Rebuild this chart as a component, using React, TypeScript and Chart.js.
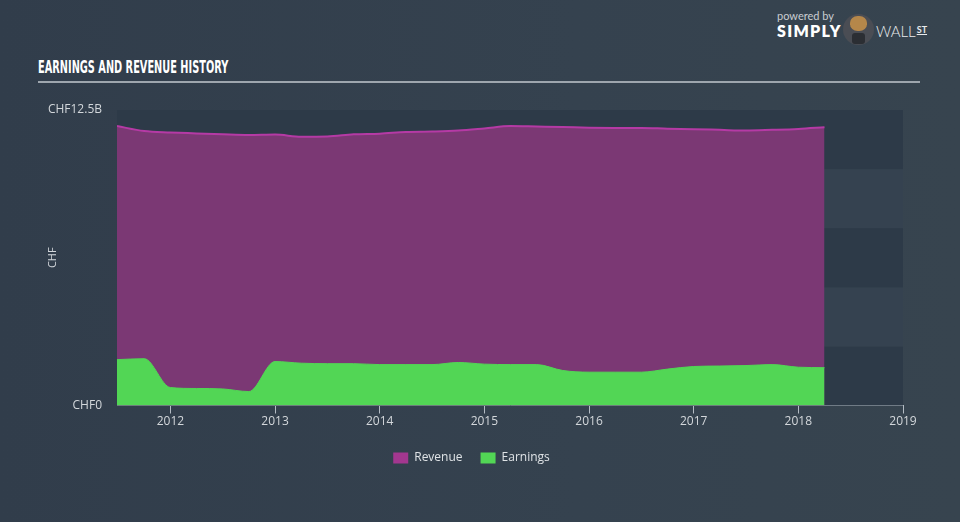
import React, { useEffect, useRef } from 'react';
import { Chart, registerables } from 'chart.js';

Chart.register(...registerables);

// Quarterly reporting periods (decimal years)
const periods = [
  2011.49, 2011.75, 2012.0, 2012.25, 2012.5, 2012.75, 2013.0, 2013.25, 2013.5, 2013.75,
  2014.0, 2014.25, 2014.5, 2014.75, 2015.0, 2015.25, 2015.5, 2015.75, 2016.0, 2016.25,
  2016.5, 2016.75, 2017.0, 2017.25, 2017.5, 2017.75, 2018.0, 2018.25,
];
// CHF billions
const revenue = [
  11.82, 11.61, 11.55, 11.51, 11.47, 11.44, 11.46, 11.37, 11.38, 11.47,
  11.5, 11.57, 11.59, 11.63, 11.72, 11.82, 11.8, 11.78, 11.75, 11.74,
  11.74, 11.71, 11.69, 11.66, 11.63, 11.66, 11.7, 11.77,
];
const earnings = [
  1.94, 1.98, 0.76, 0.72, 0.7, 0.59, 1.86, 1.79, 1.77, 1.77,
  1.73, 1.73, 1.73, 1.82, 1.75, 1.73, 1.73, 1.48, 1.41, 1.41,
  1.41, 1.54, 1.65, 1.67, 1.69, 1.73, 1.62, 1.6,
];
const yearTicks = [2012, 2013, 2014, 2015, 2016, 2017, 2018, 2019];
const yTickValues = [0, 12.5];
const yTickLabels = ['CHF0', 'CHF12.5B'];
const bandEdges = [0, 2.5, 5, 7.5, 10, 12.5];

const AXIS_COLOR = '#b4bcc4';
const TEXT_COLOR = '#d3d7db';
const FONT = "'Open Sans', 'Lato', sans-serif";

const bandsPlugin = {
  id: 'bands',
  beforeDatasetsDraw(chart: any) {
    const { ctx, chartArea, scales } = chart;
    const y = scales.y;
    ctx.save();
    for (let i = 0; i < bandEdges.length - 1; i++) {
      const top = y.getPixelForValue(bandEdges[i + 1]);
      const bottom = y.getPixelForValue(bandEdges[i]);
      ctx.fillStyle = i % 2 === 0 ? '#2d3a48' : '#354250';
      ctx.fillRect(chartArea.left, top, chartArea.right - chartArea.left, bottom - top);
    }
    ctx.restore();
  },
};

export default function App() {
  const canvasRef = useRef<HTMLCanvasElement | null>(null);

  useEffect(() => {
    if (!canvasRef.current) return;
    const chart = new Chart(canvasRef.current, {
      type: 'line',
      data: {
        datasets: [
          {
            label: 'Revenue',
            data: periods.map((x, i) => ({ x, y: revenue[i] })),
            borderColor: '#b53aa5',
            backgroundColor: '#7b3874',
            borderWidth: 2,
            fill: 'origin',
            pointRadius: 0,
            cubicInterpolationMode: 'monotone',
            order: 1,
          },
          {
            label: 'Earnings',
            data: periods.map((x, i) => ({ x, y: earnings[i] })),
            borderColor: '#52d655',
            backgroundColor: '#52d655',
            borderWidth: 1,
            fill: 'origin',
            pointRadius: 0,
            cubicInterpolationMode: 'monotone',
            order: 0,
          },
        ],
      },
      options: {
        animation: false,
        responsive: false,
        maintainAspectRatio: false,
        layout: { padding: { left: 40, right: 57, top: 110, bottom: 48 } },
        plugins: {
          tooltip: { enabled: false },
          legend: {
            display: true,
            position: 'bottom',
            labels: {
              boxWidth: 15,
              boxHeight: 11,
              padding: 18,
              color: '#dfe3e6',
              font: { family: FONT, size: 12 },
              sort: (a: any, b: any) => a.datasetIndex - b.datasetIndex,
              generateLabels: (c: any) =>
                Chart.defaults.plugins.legend.labels.generateLabels(c).map((l: any) => ({
                  ...l,
                  fillStyle: l.datasetIndex === 0 ? '#a3378f' : '#52d655',
                  strokeStyle: 'rgba(0,0,0,0)',
                  lineWidth: 0,
                })),
            },
          },
        },
        scales: {
          x: {
            type: 'linear',
            min: 2011.49,
            max: 2019,
            afterBuildTicks: (s: any) => {
              s.ticks = yearTicks.map((v) => ({ value: v }));
            },
            afterFit: (s: any) => {
              s.height = 28.5;
            },
            ticks: {
              autoSkip: false,
              maxRotation: 0,
              padding: 1,
              color: TEXT_COLOR,
              font: { family: FONT, size: 12 },
              callback: (v: any) => String(v),
            },
            grid: {
              drawOnChartArea: false,
              drawTicks: true,
              tickLength: 8,
              color: AXIS_COLOR,
              lineWidth: 1,
            },
            border: { display: true, color: AXIS_COLOR, width: 1 },
          },
          y: {
            min: 0,
            max: 12.5,
            afterBuildTicks: (s: any) => {
              s.ticks = yTickValues.map((v) => ({ value: v }));
            },
            afterFit: (s: any) => {
              s.width = 77;
            },
            ticks: {
              padding: 7,
              color: TEXT_COLOR,
              font: { family: FONT, size: 12 },
              callback: (v: any) => {
                const idx = yTickValues.indexOf(Number(v));
                return idx >= 0 ? yTickLabels[idx] : '';
              },
            },
            grid: { display: false },
            border: { display: false },
            title: {
              display: true,
              text: 'CHF',
              color: TEXT_COLOR,
              font: { family: FONT, size: 11 },
              padding: 6,
            },
          },
        },
      },
      plugins: [bandsPlugin],
    } as any);
    return () => chart.destroy();
  }, []);

  return (
    <div
      style={{
        position: 'fixed',
        left: 0,
        top: 0,
        width: 960,
        height: 522,
        background: 'linear-gradient(90deg, #313d4b 0%, #35424f 60%, #37444f 100%)',
        overflow: 'hidden',
        fontFamily: FONT,
      }}
    >
      <div
        style={{
          position: 'absolute',
          left: 38,
          top: 57,
          color: '#ffffff',
          fontFamily: "'DejaVu Sans Condensed', 'Liberation Sans Narrow', sans-serif",
          fontWeight: 700,
          fontSize: 17,
          whiteSpace: 'nowrap',
          transform: 'scaleX(0.64)',
          transformOrigin: 'left top',
          letterSpacing: 0,
        }}
      >
        EARNINGS AND REVENUE HISTORY
      </div>
      <div style={{ position: 'absolute', left: 38, top: 81, width: 882, height: 2, background: '#9ea6ae' }} />
      {/* logo */}
      <div style={{ position: 'absolute', left: 777, top: 9, color: '#c9cdd1', fontSize: 11, fontFamily: "'Lato', sans-serif" }}>
        powered by
      </div>
      <div
        style={{
          position: 'absolute',
          left: 777,
          top: 21,
          color: '#ffffff',
          fontSize: 16,
          fontWeight: 800,
          letterSpacing: 1.3,
          fontFamily: "'Lato', sans-serif",
        }}
      >
        SIMPLY
      </div>
      <div
        style={{
          position: 'absolute',
          left: 843,
          top: 14,
          width: 31,
          height: 31,
          borderRadius: '50%',
          background: '#4a4d54',
        }}
      >
        <div style={{ position: 'absolute', left: 7, top: 2, width: 17, height: 15, borderRadius: '45%', background: '#b5874a' }} />
        <div style={{ position: 'absolute', left: 9, top: 19, width: 13, height: 11, background: '#2b2e33', borderRadius: 3 }} />
      </div>
      <div
        style={{
          position: 'absolute',
          left: 876,
          top: 22,
          color: '#e9ebed',
          fontSize: 15,
          fontWeight: 300,
          letterSpacing: 0,
          fontFamily: "'Lato', sans-serif",
        }}
      >
        WALL<span style={{ fontSize: 9, fontWeight: 700, textDecoration: 'underline', verticalAlign: 4, marginLeft: 1 }}>ST</span>
      </div>
      <canvas ref={canvasRef} width={960} height={522} style={{ position: 'absolute', left: 0, top: 0 }} />
    </div>
  );
}
